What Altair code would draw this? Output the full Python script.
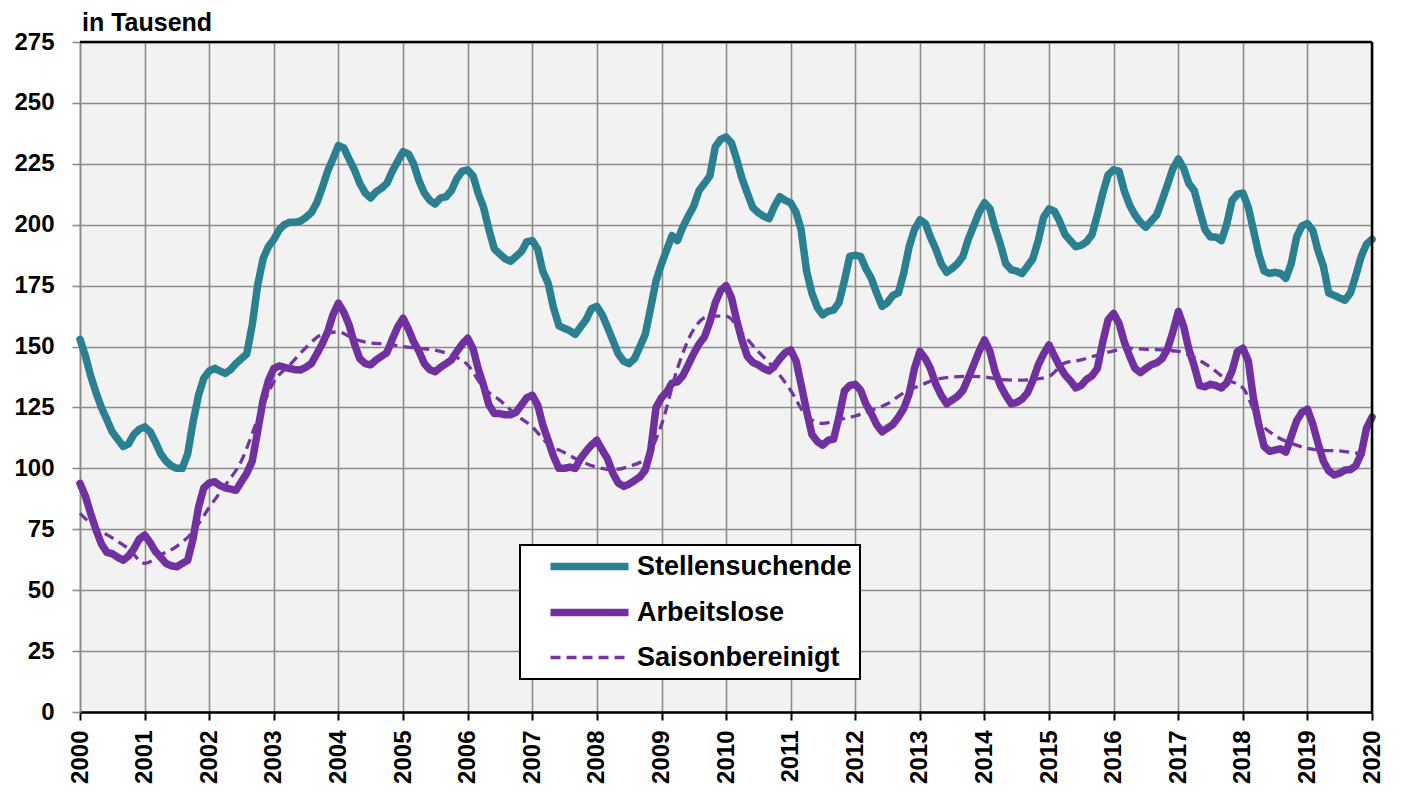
import altair as alt
import pandas as pd

# ---- data (thousands), monthly Jan 2000 .. Jan 2020 ----
stellensuchende = [
    153, 146, 138, 131, 125, 120, 115, 112, 109, 110, 114, 116,              # 2000
    117, 115, 111, 106, 103, 101, 100, 100, 106, 119, 130, 137,              # 2001
    140, 141, 140, 139, 140.5, 143, 145, 147, 159, 175, 186, 191,            # 2002
    194, 198, 200, 201, 201, 201.5, 203, 205, 209, 215, 222, 227,            # 2003
    232.5, 231.5, 227, 222.5, 217, 213, 211, 213.5, 215, 217, 222, 226,      # 2004
    230, 229, 225, 218, 213, 210, 208.5, 211, 211.5, 214, 219, 222,          # 2005
    222.5, 220, 213, 207, 198, 190, 188, 186, 185, 187, 189, 193,            # 2006
    193.5, 190, 181, 176, 166, 158.5, 157.5, 156.5, 155, 158, 161, 165.5,    # 2007
    166.5, 163, 158, 152.5, 147, 144, 143, 145, 150, 155, 166, 177,          # 2008
    184, 190, 195.5, 193.5, 199, 203.5, 207.5, 214, 217, 220, 232, 235,      # 2009
    236, 233.5, 227, 219, 213, 207, 205, 203.5, 202.5, 207.5, 211.5, 210,    # 2010
    209, 205, 198, 181, 172, 166, 163, 164.5, 165, 168, 177, 187,            # 2011
    187.5, 187, 182, 178, 172, 166.5, 168, 171, 172, 180, 191, 198,          # 2012
    202, 200.5, 195, 190, 184, 180.5, 182, 184, 187, 194, 199.5, 205,        # 2013
    209, 206.5, 199, 192, 184, 181.5, 181, 180, 183, 186, 193.5, 203,        # 2014
    206.5, 205.5, 201.5, 196, 193.5, 191, 191.5, 193, 196, 204, 213, 220.5,  # 2015
    222.5, 222, 214, 208, 204, 201, 199, 201.5, 204, 210, 216.5, 223,        # 2016
    227, 223, 217, 214, 206, 198, 195, 195, 193.5, 200, 210, 212.5,          # 2017
    213, 207, 198, 188, 181, 180, 180.5, 180, 178, 184, 195, 199.5,          # 2018
    200.5, 197.5, 189.5, 183, 172, 171, 170, 169, 172, 179, 187, 192,        # 2019
    194,                                                                     # 2020
]

arbeitslose = [
    93.8, 88.5, 81.5, 74.7, 69, 65.5, 65, 63.5, 62.3, 64, 67, 71,            # 2000
    72.6, 69.5, 66, 63.5, 61, 60, 59.6, 61, 62.3, 71, 84, 92,                # 2001
    94, 94.5, 93, 92, 91.5, 91, 94.5, 98, 103, 115, 128, 136,                # 2002
    141, 142, 141.5, 141, 140.5, 140.4, 141.5, 143, 147, 151, 156, 163,      # 2003
    167.8, 164, 159, 151, 145, 143, 142.5, 144.5, 146, 147.5, 153, 158,      # 2004
    161.6, 157, 152, 148, 143, 140.5, 139.7, 141.5, 143, 144.5, 148, 151,    # 2005
    153.4, 149, 141, 134, 126, 122.5, 122.5, 122, 122, 123, 126, 129,        # 2006
    130, 126, 118, 111.5, 105, 100, 100, 100.5, 100, 104, 107, 109.5,        # 2007
    111.5, 107.5, 104, 98, 94, 92.6, 93.5, 95, 96.5, 99.3, 107.5, 125,       # 2008
    129, 131.5, 135, 135.5, 138, 142.5, 147, 151, 154, 160, 168, 173,        # 2009
    175, 170, 161, 152.5, 146, 143.5, 142.5, 141, 140, 142, 145, 147.5,      # 2010
    148.6, 144, 134.5, 123.6, 114, 111, 109.5, 111.5, 112, 121, 131.8, 134,  # 2011
    134.5, 132, 126.5, 122.5, 118, 115, 116.5, 118, 121, 124.5, 130.5, 141,  # 2012
    148, 145, 141, 134.5, 130, 126.5, 128, 129.5, 132, 137, 142.5, 148,      # 2013
    152.7, 148, 140, 134, 130, 126.5, 127, 128.4, 131, 136, 142.5, 147,      # 2014
    150.7, 146, 142, 138.4, 136, 133, 134, 136.5, 138, 141, 152, 161,        # 2015
    163.6, 159.5, 152, 146, 141, 139.3, 141, 142.5, 143.3, 145, 149, 156,    # 2016
    164.4, 158, 149, 142, 134, 133.5, 134.5, 134, 133, 135, 140, 148,        # 2017
    149.3, 144, 129, 118, 109, 107, 107.5, 108, 106.7, 113, 119.5, 123,      # 2018
    124.3, 118, 110.5, 103, 99, 97.3, 98, 99.3, 99.5, 101, 106, 116.5,       # 2019
    121,                                                                     # 2020
]

# seasonally adjusted unemployed, read quarterly (Jan, Apr, Jul, Oct)
saison_dates = [f"{y}-{m:02d}-01" for y in range(2000, 2020) for m in (1, 4, 7, 10)] + ["2020-01-01"]
saisonbereinigt = [
    81.5, 75.5, 71.5, 67,        # 2000
    61, 64.5, 68, 74,            # 2001
    84, 93, 103, 120,            # 2002
    135.5, 142.5, 149.5, 155,    # 2003
    156, 153, 151.5, 151,        # 2004
    150, 149.3, 148.5, 146.5,    # 2005
    142.5, 133, 128, 122,        # 2006
    117, 110, 106.5, 103,        # 2007
    100.5, 99.5, 100.8, 104,     # 2008
    118, 141, 157, 162.5,        # 2009
    162.5, 155.5, 148, 141,      # 2010
    132, 121.5, 118.5, 120,      # 2011
    121.5, 123.8, 126.5, 131,    # 2012
    134, 136.5, 137.5, 137.8,    # 2013
    137.5, 136.5, 136.2, 136.5,  # 2014
    137.8, 143.3, 144.5, 146.5,  # 2015
    148.2, 149.3, 148.8, 148.6,  # 2016
    148, 145.5, 141.5, 136.5,    # 2017
    133, 119.5, 113.5, 110.3,    # 2018
    108.2, 107.4, 107.2, 106.3,  # 2019
    105.8,                       # 2020
]

series_names = ["Stellensuchende", "Arbeitslose", "Saisonbereinigt"]
series_colors = ["#2a7f91", "#7030a0", "#7434a6"]
y_ticks = list(range(0, 276, 25))

months = pd.date_range("2000-01-01", periods=len(stellensuchende), freq="MS").strftime("%Y-%m-%d")
df_main = pd.concat([
    pd.DataFrame({"date": months, "value": stellensuchende, "series": series_names[0]}),
    pd.DataFrame({"date": months, "value": arbeitslose, "series": series_names[1]}),
])
df_sa = pd.DataFrame({"date": saison_dates, "value": saisonbereinigt, "series": series_names[2]})

W, H = 1292, 670
FONT = "Liberation Sans"

x_enc = alt.X(
    "date:T",
    scale=alt.Scale(type="utc", domain=["2000-01-01", "2020-01-01"], nice=False),
    axis=alt.Axis(
        title=None, format="%Y", tickCount={"interval": "year", "step": 1},
        labelAngle=270, labelAlign="right", labelBaseline="middle",
        labelFontSize=24, labelFontWeight="bold", labelColor="black", labelPadding=10,
        labelFlush=False, labelOverlap=False,
        tickColor="black", tickWidth=2, tickSize=8,
        domainColor="black", domainWidth=2.5,
        grid=True, gridColor="#8c8c8c", gridWidth=1.6,
    ),
)
y_enc = alt.Y(
    "value:Q",
    scale=alt.Scale(domain=[0, 275], nice=False),
    axis=alt.Axis(
        title=None, values=y_ticks, labelFontSize=24, labelFontWeight="bold",
        labelColor="black", labelPadding=18, labelFlush=False, labelOverlap=False,
        tickColor="#8c8c8c", tickWidth=1.6, tickSize=8,
        domainColor="#8c8c8c", domainWidth=1.6,
        grid=True, gridColor="#8c8c8c", gridWidth=1.6,
    ),
)
color_enc = alt.Color(
    "series:N",
    scale=alt.Scale(domain=series_names, range=series_colors),
    legend=alt.Legend(
        title=None, orient="none", legendX=440, legendY=503, direction="vertical",
        fillColor="white", strokeColor="black", padding=8,
        symbolType="M-4,0H4", symbolSize=380, symbolOffset=48,
        labelFontSize=27, labelFontWeight="bold", labelColor="black", labelFont=FONT,
        labelOffset=34, rowPadding=15, labelLimit=400,
    ),
)
dash_enc = alt.StrokeDash(
    "series:N",
    scale=alt.Scale(type="ordinal", domain=series_names, range=[[1, 0], [1, 0], [10, 6]]),
    legend=alt.Legend(title=None),
)
width_enc = alt.StrokeWidth(
    "series:N",
    scale=alt.Scale(type="ordinal", domain=series_names, range=[7.5, 7.5, 3.3]),
    legend=alt.Legend(title=None),
)

main_lines = alt.Chart(df_main).mark_line(strokeCap="round", strokeJoin="round").encode(
    x=x_enc, y=y_enc, color=color_enc, strokeDash=dash_enc, strokeWidth=width_enc,
    order=alt.Order("date:T"), detail="series:N",
)
sa_line = alt.Chart(df_sa).mark_line(interpolate="monotone").encode(
    x=x_enc, y=y_enc, color=color_enc, strokeDash=dash_enc, strokeWidth=width_enc,
)

frame = pd.DataFrame({"k": [0]})
top_rule = alt.Chart(frame).mark_rule(color="black", strokeWidth=2.5).encode(
    x=alt.value(0), x2=alt.value(W), y=alt.value(0)
)
right_rule = alt.Chart(frame).mark_rule(color="black", strokeWidth=2.5).encode(
    x=alt.value(W), y=alt.value(0), y2=alt.value(H)
)
unit_label = alt.Chart(pd.DataFrame({"t": ["in Tausend"]})).mark_text(
    align="left", baseline="alphabetic", fontSize=25, fontWeight="bold", font=FONT, color="black"
).encode(text="t:N", x=alt.value(2), y=alt.value(-11))

chart = alt.layer(main_lines, sa_line, top_rule, right_rule, unit_label).resolve_scale(
    color="shared", strokeDash="shared", strokeWidth="shared"
).properties(
    width=W, height=H,
    autosize=alt.AutoSizeParams(type="none"),
    padding={"left": 72, "top": 34, "right": 15, "bottom": 74},
).configure(
    font=FONT,
).configure_view(
    fill="#f2f2f2", stroke=None,
).configure_legend(
    strokeWidth=2,
)

chart.save("out.html", embed_options={"renderer": "svg", "actions": False})
